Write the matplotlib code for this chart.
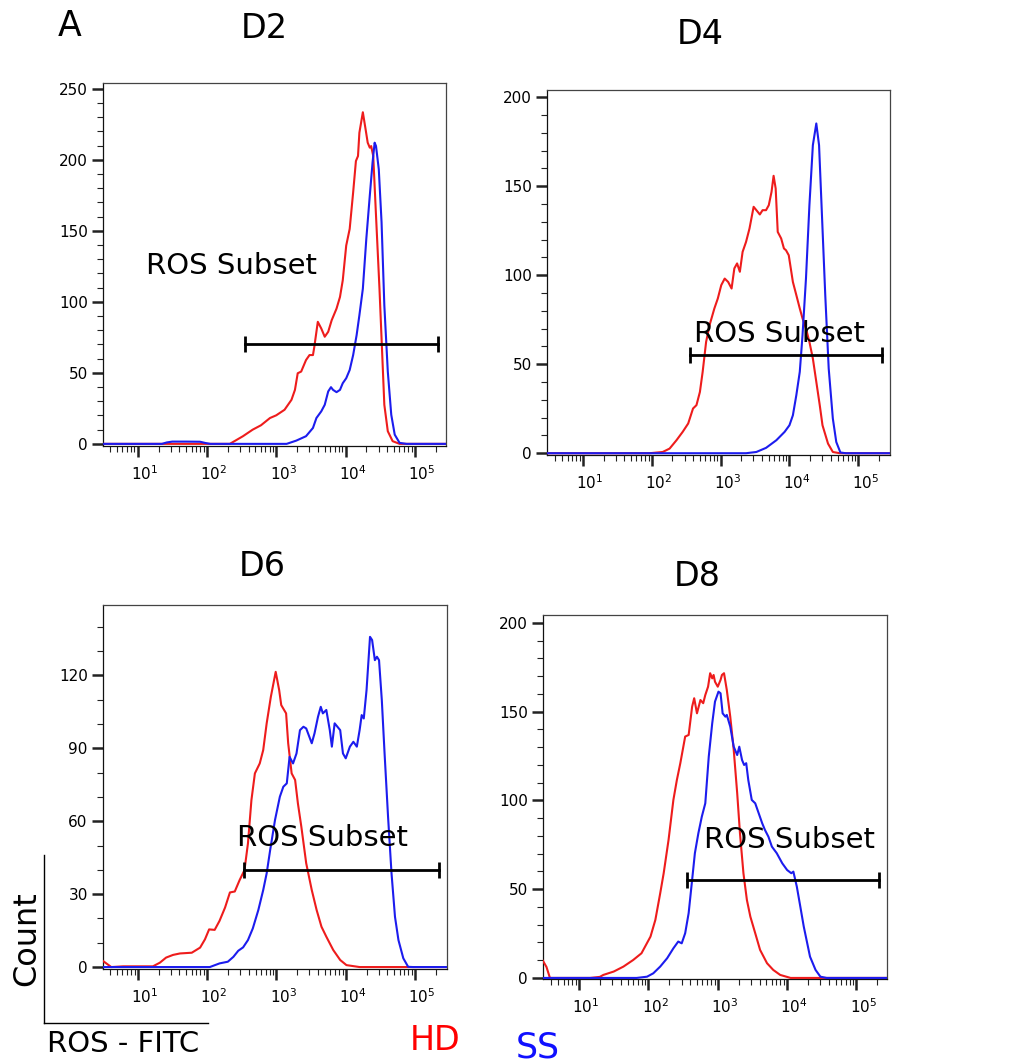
import numpy as np
import matplotlib
matplotlib.use("Agg")
import matplotlib.pyplot as plt
import matplotlib.transforms as mtransforms
from matplotlib.lines import Line2D
from matplotlib.ticker import LogLocator, FixedLocator, MultipleLocator, NullFormatter

W, H = 1015, 1062
RED = "#ee1c1c"
BLUE = "#1c1cee"

# histogram traces, x as log10(ROS-FITC), y as event count
D2_HD_LG = [0.50, 2.10, 2.33, 2.52, 2.66, 2.78, 2.91, 3.00, 3.12, 3.22, 3.27, 3.31, 3.36, 3.43,
            3.48, 3.53, 3.55, 3.60, 3.65, 3.70, 3.75, 3.80, 3.87, 3.92, 3.96, 4.01, 4.06, 4.11,
            4.15, 4.18, 4.20, 4.25, 4.29, 4.32, 4.35, 4.37, 4.40, 4.44, 4.49, 4.53, 4.56, 4.61,
            4.68, 4.78, 5.45]
D2_HD_N = [0, 0, 0, 5.4, 10.0, 13.1, 18.2, 20.1, 24.0, 31.0, 38.0, 49.7, 50.9, 59.0,
           62.5, 62.5, 68.4, 85.9, 81.2, 75.4, 78.9, 87.0, 95.2, 103.4, 115.1, 139.6, 151.3, 177.0,
           199.1, 202.6, 219.0, 233.4, 221.3, 212.0, 208.5, 209.6, 202.6, 160.6, 109.2, 62.5, 27.5, 8.9,
           1.9, 0, 0]
D2_SS_LG = [0.50, 1.35, 1.42, 1.50, 1.70, 1.90, 1.98, 2.05, 3.15, 3.29, 3.43, 3.53, 3.58, 3.65,
            3.70, 3.75, 3.79, 3.82, 3.87, 3.92, 3.96, 4.01, 4.06, 4.11, 4.16, 4.20, 4.25, 4.30,
            4.35, 4.39, 4.42, 4.44, 4.48, 4.52, 4.56, 4.61, 4.66, 4.71, 4.78, 4.88, 5.45]
D2_SS_N = [0, 0, 1.0, 1.6, 1.6, 1.5, 0.6, 0, 0, 2.3, 5.4, 11.2, 18.2, 22.9,
           27.5, 36.9, 39.9, 38.0, 36.4, 38.0, 42.7, 46.2, 52.0, 62.5, 76.5, 90.5, 109.2, 144.3,
           174.6, 198.0, 212.0, 209.6, 193.3, 156.0, 97.5, 50.9, 20.5, 6.5, 0.7, 0, 0]

D4_HD_LG = [0.48, 1.97, 2.16, 2.26, 2.36, 2.45, 2.53, 2.60, 2.65, 2.70, 2.74, 2.79, 2.84, 2.91,
            2.96, 3.01, 3.06, 3.11, 3.16, 3.20, 3.24, 3.28, 3.32, 3.37, 3.42, 3.48, 3.52, 3.57,
            3.61, 3.66, 3.70, 3.74, 3.77, 3.80, 3.83, 3.88, 3.92, 3.95, 3.99, 4.05, 4.10, 4.15,
            4.19, 4.24, 4.29, 4.34, 4.39, 4.44, 4.48, 4.56, 4.63, 4.73, 5.46]
D4_HD_N = [0, 0, 0.7, 2.6, 7.3, 12.0, 16.7, 25.1, 27.0, 34.4, 45.7, 62.5, 71.9, 81.3,
           86.9, 94.4, 98.1, 96.2, 92.5, 103.8, 106.6, 101.9, 113.1, 118.7, 126.2, 138.4, 136.5, 134.1,
           136.5, 136.5, 139.3, 146.8, 155.8, 148.7, 124.3, 120.6, 115.0, 114.0, 111.2, 96.2, 88.8, 81.3,
           75.7, 70.1, 62.5, 53.2, 40.1, 27.0, 15.7, 5.4, 0.7, 0, 0]
D4_SS_LG = [0.48, 3.37, 3.52, 3.66, 3.81, 3.93, 4.00, 4.05, 4.10, 4.15, 4.19, 4.24, 4.29, 4.34,
            4.39, 4.43, 4.47, 4.52, 4.57, 4.63, 4.68, 4.74, 4.82, 5.46]
D4_SS_N = [0, 0, 0.7, 3.0, 7.3, 12.0, 15.7, 21.3, 32.6, 45.7, 66.3, 98.1, 139.3, 173.0,
           185.2, 173.0, 135.6, 88.8, 47.6, 19.5, 6.3, 0.4, 0, 0]

D6_HD_LG = [0.50, 0.62, 0.79, 1.22, 1.32, 1.41, 1.51, 1.61, 1.78, 1.90, 1.97, 2.03, 2.11, 2.18,
            2.26, 2.33, 2.40, 2.47, 2.54, 2.59, 2.64, 2.69, 2.76, 2.81, 2.86, 2.92, 2.99, 3.04,
            3.07, 3.14, 3.17, 3.22, 3.27, 3.31, 3.36, 3.43, 3.51, 3.58, 3.65, 3.72, 3.82, 3.92,
            4.01, 4.20, 5.46]
D6_HD_N = [2.5, 0, 0.3, 0.3, 1.8, 3.9, 5.0, 5.6, 5.9, 8.0, 11.4, 15.5, 15.3, 19.0,
           24.5, 30.7, 31.1, 35.8, 39.9, 50.9, 68.7, 79.7, 83.8, 89.3, 100.3, 111.2, 121.5, 114.0,
           107.8, 104.4, 92.1, 79.7, 77.0, 67.4, 57.7, 42.7, 31.7, 23.5, 16.6, 12.5, 7.0, 2.9,
           0.8, 0, 0]
D6_SS_LG = [0.50, 2.04, 2.18, 2.30, 2.38, 2.45, 2.52, 2.59, 2.66, 2.74, 2.81, 2.86, 2.91, 2.98,
            3.05, 3.10, 3.15, 3.19, 3.24, 3.29, 3.34, 3.39, 3.43, 3.51, 3.55, 3.60, 3.64, 3.67,
            3.72, 3.77, 3.80, 3.84, 3.92, 3.96, 4.00, 4.06, 4.11, 4.16, 4.20, 4.23, 4.26, 4.30,
            4.35, 4.38, 4.42, 4.45, 4.48, 4.52, 4.56, 4.61, 4.66, 4.71, 4.76, 4.83, 4.90, 4.97,
            5.46]
D6_SS_N = [0, 0, 1.5, 2.2, 4.2, 6.7, 8.1, 11.1, 15.9, 23.5, 31.7, 38.6, 48.1, 60.5,
           70.1, 74.2, 75.6, 86.5, 83.8, 87.9, 97.5, 98.9, 98.2, 92.1, 96.2, 103.0, 107.1, 104.4,
           105.8, 97.5, 90.7, 100.3, 97.5, 87.9, 85.9, 90.7, 92.7, 90.7, 97.5, 103.7, 102.3, 114.0,
           135.9, 134.6, 126.3, 127.7, 126.3, 109.9, 87.9, 61.9, 38.6, 20.7, 11.1, 3.6, 0.1, 0,
           0]

D8_HD_LG = [0.48, 0.53, 0.58, 1.16, 1.30, 1.35, 1.50, 1.64, 1.78, 1.90, 2.03, 2.10, 2.17, 2.22,
            2.29, 2.36, 2.41, 2.46, 2.53, 2.58, 2.63, 2.66, 2.70, 2.75, 2.79, 2.82, 2.86, 2.89,
            2.92, 2.94, 2.96, 3.00, 3.04, 3.06, 3.09, 3.13, 3.18, 3.23, 3.28, 3.32, 3.37, 3.42,
            3.47, 3.54, 3.61, 3.71, 3.80, 3.90, 4.05, 5.44]
D8_HD_N = [9.6, 6.2, 0, 0, 0.6, 1.7, 3.6, 6.4, 10.1, 13.9, 23.3, 32.7, 47.7, 59.0,
           77.7, 100.3, 111.5, 121.0, 136.0, 136.9, 152.8, 157.6, 149.1, 156.6, 154.8, 159.4, 164.1, 171.7,
           168.8, 170.7, 166.9, 164.1, 167.9, 170.7, 171.7, 162.3, 147.2, 128.5, 104.1, 81.5, 59.0, 43.9,
           34.5, 25.2, 15.8, 8.3, 4.5, 1.7, 0, 0]
D8_SS_LG = [0.48, 1.83, 1.98, 2.07, 2.17, 2.27, 2.36, 2.43, 2.48, 2.53, 2.58, 2.63, 2.67, 2.72,
            2.77, 2.82, 2.87, 2.92, 2.96, 3.01, 3.04, 3.07, 3.11, 3.13, 3.18, 3.23, 3.28, 3.31,
            3.35, 3.38, 3.41, 3.44, 3.49, 3.54, 3.59, 3.64, 3.68, 3.73, 3.78, 3.85, 3.93, 4.00,
            4.06, 4.09, 4.14, 4.19, 4.24, 4.29, 4.33, 4.41, 4.48, 4.57, 5.44]
D8_SS_N = [0, 0, 0.7, 2.6, 6.4, 11.1, 16.7, 20.5, 19.5, 25.2, 36.5, 55.2, 70.3, 81.5,
           90.9, 98.4, 124.7, 143.5, 155.7, 161.3, 160.4, 149.1, 147.2, 148.2, 141.6, 130.3, 125.6, 130.3,
           122.8, 120.0, 121.0, 111.5, 100.3, 98.4, 92.8, 87.2, 83.4, 79.6, 74.0, 70.3, 64.6, 60.8,
           59.0, 59.9, 51.4, 40.2, 28.9, 19.5, 12.0, 4.5, 0.7, 0, 0]

# gate: (log10 start, log10 end, count level), label position (log10, count)
GATES = {
    "D2": (2.55, 5.33, 70, 2.36, 125),
    "D4": (2.55, 5.35, 55, 3.85, 67),
    "D6": (2.54, 5.35, 40, 3.67, 53),
    "D8": (2.55, 5.32, 55, 4.03, 78),
}

# panel box in pixels: left, top, right, bottom ; x range (log10) ; y range
PANELS = {
    "D2": ((103, 83, 446, 446), (0.50, 5.45), (-1.5, 254), 50, (D2_HD_LG, D2_HD_N, D2_SS_LG, D2_SS_N)),
    "D4": ((547, 90, 890, 455), (0.48, 5.46), (-1.0, 204), 50, (D4_HD_LG, D4_HD_N, D4_SS_LG, D4_SS_N)),
    "D6": ((103, 605, 447, 969), (0.50, 5.46), (-0.8, 149), 30, (D6_HD_LG, D6_HD_N, D6_SS_LG, D6_SS_N)),
    "D8": ((543, 615, 887, 979), (0.48, 5.44), (-0.6, 204.5), 50, (D8_HD_LG, D8_HD_N, D8_SS_LG, D8_SS_N)),
}
TITLE_POS = {"D2": (264, 28), "D4": (700, 35), "D6": (262, 567), "D8": (697, 577)}

fig = plt.figure(figsize=(W / 100, H / 100), dpi=100)
fig.patch.set_facecolor("white")


def fx(px):
    return px / W


def fy(py):
    return 1 - py / H


shift = mtransforms.ScaledTranslation(7 / 100, 0, fig.dpi_scale_trans)

for name, (box, xr, yr, ystep, curves) in PANELS.items():
    l, t, r, b = box
    ax = fig.add_axes([fx(l), fy(b), (r - l) / W, (b - t) / H])
    hd_lg, hd_n, ss_lg, ss_n = curves
    ax.plot(10 ** np.array(hd_lg), hd_n, color=RED, lw=1.5, zorder=3, solid_joinstyle="round")
    ax.plot(10 ** np.array(ss_lg), ss_n, color=BLUE, lw=1.5, zorder=3, solid_joinstyle="round")

    g0, g1, gy, tx, ty = GATES[name]
    ax.plot([10 ** g0, 10 ** g1], [gy, gy], color="black", lw=2.0, zorder=4,
            marker="|", markersize=11, markeredgewidth=2.0)
    ax.text(10 ** tx, ty, "ROS Subset", fontsize=21, ha="center", va="center", zorder=5)

    ax.set_xscale("log")
    ax.set_xlim(10 ** xr[0], 10 ** xr[1])
    ax.set_ylim(*yr)
    ax.xaxis.set_major_locator(FixedLocator([10.0 ** k for k in range(1, 6)]))
    ax.xaxis.set_minor_locator(LogLocator(base=10, subs=np.arange(2, 10), numticks=20))
    ax.xaxis.set_minor_formatter(NullFormatter())
    ax.set_xticklabels([r"$10^{%d}$" % k for k in range(1, 6)])
    ax.yaxis.set_major_locator(MultipleLocator(ystep))
    ax.yaxis.set_minor_locator(MultipleLocator(10))
    ax.tick_params(which="major", direction="out", length=8, width=1.8, labelsize=11,
                   color="#222222", pad=3)
    ax.tick_params(which="minor", direction="out", length=4, width=0.8, color="#222222")
    ax.tick_params(axis="x", which="major", pad=5)
    for lab in ax.get_xticklabels():
        lab.set_transform(lab.get_transform() + shift)
    for sp in ax.spines.values():
        sp.set_color("#444444")
        sp.set_linewidth(0.9)
    ax.spines["left"].set_color("#111111")
    ax.spines["bottom"].set_color("#111111")

    tx_, ty_ = TITLE_POS[name]
    fig.text(fx(tx_), fy(ty_), name, fontsize=24, ha="center", va="center")

fig.text(fx(70), fy(26), "A", fontsize=25, ha="center", va="center")

# axis key in the lower left corner
fig.add_artist(Line2D([fx(44), fx(44)], [fy(855), fy(1023)], color="black", lw=1.0))
fig.add_artist(Line2D([fx(44), fx(208)], [fy(1023), fy(1023)], color="black", lw=1.0))
fig.text(fx(27), fy(939), "Count", fontsize=23, rotation=90, ha="center", va="center")
fig.text(fx(47), fy(1044), "ROS - FITC", fontsize=21, ha="left", va="center")
fig.text(fx(435), fy(1040), "HD", fontsize=24, color="#ff0000", ha="center", va="center")
fig.text(fx(538), fy(1047), "SS", fontsize=25, color="#1010ff", ha="center", va="center")

fig.savefig("out.png", dpi=100)
